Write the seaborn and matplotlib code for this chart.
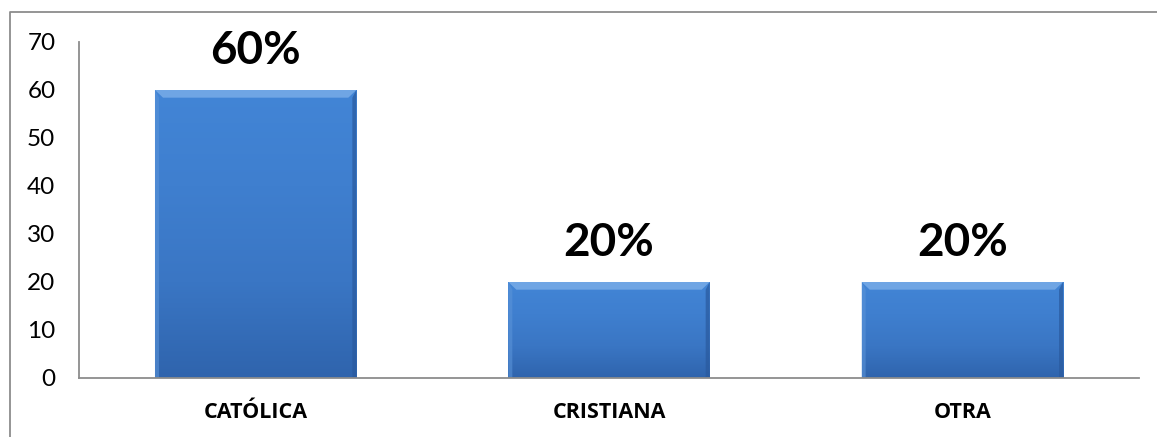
import numpy as np
import pandas as pd
import matplotlib
matplotlib.use("Agg")
import matplotlib.pyplot as plt
from matplotlib.lines import Line2D
from matplotlib.patches import Polygon
import seaborn as sns

categories = ["CATÓLICA", "CRISTIANA", "OTRA"]
values = [60, 20, 20]
pct_labels = ["60%", "20%", "20%"]
y_ticks = [0, 10, 20, 30, 40, 50, 60, 70]

sns.set_theme(style="white")
plt.rcParams["font.family"] = ["Lato", "DejaVu Sans"]

W, H = 1157, 437
fig = plt.figure(figsize=(W / 100, H / 100), dpi=100)
ax = fig.add_axes([79 / W, 1 - 378 / H, (1139 - 79) / W, (378 - 42) / H])

df = pd.DataFrame({"cat": categories, "val": values})
sns.barplot(data=df, x="cat", y="val", ax=ax, color="#3f7fcf",
            width=0.57, saturation=1, edgecolor="none")

ax.set_xlim(-0.5, len(categories) - 0.5)
ax.set_ylim(0, 70)
ax.set_yticks(y_ticks)
ax.set_xticks(range(len(categories)))
ax.set_xticklabels([])
ax.set_xlabel("")
ax.set_ylabel("")
ax.tick_params(axis="y", length=0, pad=17, labelsize=17.5, labelcolor="#000000")
ax.tick_params(axis="x", length=0)

# Bold category names under the axis
for i, c in enumerate(categories):
    ax.annotate(c, (i, 0), xycoords=("data", "axes fraction"),
                xytext=(0, -25), textcoords="offset points",
                ha="center", va="center", fontsize=15.5, fontweight="bold",
                family=["Open Sans", "DejaVu Sans"],
                color="#000000", annotation_clip=False)

for side in ["top", "right"]:
    ax.spines[side].set_visible(False)
for side in ["left", "bottom"]:
    ax.spines[side].set_color("#8c8c8c")
    ax.spines[side].set_linewidth(1.3)

# Bevelled gradient shading on each bar
grad = np.linspace(0, 1, 256).reshape(-1, 1)
cmap = matplotlib.colors.LinearSegmentedColormap.from_list(
    "barshade", ["#2f64ad", "#3a76c4", "#3f7fcf", "#4285d6"])
for patch in ax.patches:
    x0, y0 = patch.get_x(), patch.get_y()
    w, h = patch.get_width(), patch.get_height()
    im = ax.imshow(grad, extent=[x0, x0 + w, y0, y0 + h], origin="lower",
                   cmap=cmap, aspect="auto", zorder=patch.get_zorder() + 0.1)
    im.set_clip_path(patch)
    bev_x = w * 0.04
    bev_y = 1.6
    top = Polygon([[x0, y0 + h], [x0 + w, y0 + h],
                   [x0 + w - bev_x, y0 + h - bev_y], [x0 + bev_x, y0 + h - bev_y]],
                  closed=True, facecolor="#6fa5e4", edgecolor="none",
                  zorder=patch.get_zorder() + 0.2)
    ax.add_patch(top)
    left = Polygon([[x0, y0], [x0, y0 + h], [x0 + bev_x * 0.5, y0 + h - bev_y],
                    [x0 + bev_x * 0.5, y0]],
                   closed=True, facecolor="#5a93d8", edgecolor="none",
                   zorder=patch.get_zorder() + 0.2, alpha=0.6)
    ax.add_patch(left)
    right = Polygon([[x0 + w, y0], [x0 + w, y0 + h], [x0 + w - bev_x * 0.5, y0 + h - bev_y],
                     [x0 + w - bev_x * 0.5, y0]],
                    closed=True, facecolor="#2a5a9e", edgecolor="none",
                    zorder=patch.get_zorder() + 0.2, alpha=0.7)
    ax.add_patch(right)

ax.set_xlim(-0.5, len(categories) - 0.5)
ax.set_ylim(0, 70)

for i, (v, t) in enumerate(zip(values, pct_labels)):
    ax.annotate(t, (i, v), xytext=(0, 13), textcoords="offset points",
                ha="center", va="bottom", fontsize=33, fontweight="bold",
                color="#000000", annotation_clip=False)

# Outer chart frame
fig.add_artist(Line2D([10 / W, 10 / W, 1.0], [0.0, 1 - 12 / H, 1 - 12 / H],
                      transform=fig.transFigure, color="#8c8c8c", linewidth=1.3))

fig.savefig("out.png", dpi=100)
